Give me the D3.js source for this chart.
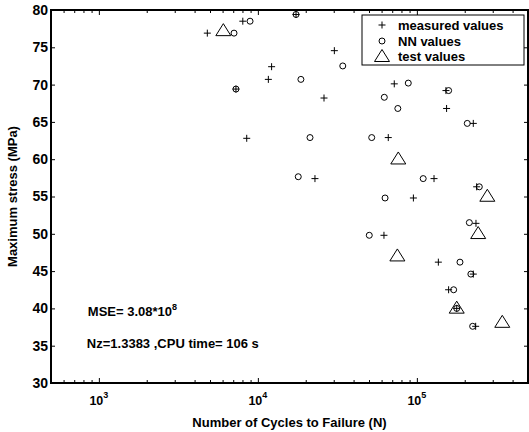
<!DOCTYPE html>
<html><head><meta charset="utf-8">
<script src="https://cdn.jsdelivr.net/npm/d3@7/dist/d3.min.js"></script>
<style>
body{margin:0;background:#fff}
svg text{font-family:"Liberation Sans",Arial,Helvetica,sans-serif;font-weight:bold;fill:#000}
</style>
</head><body>
<svg id="chart" width="529" height="432"></svg>
<script>
// ---- data ----
const measuredCycles = [4810, 8040, 17380, 12200, 11640, 7280, 8510, 30270, 26060, 22860, 72100, 66100, 152400, 153800, 226400, 128200, 237700, 95100, 235400, 136500, 226400, 158400, 178100, 234300, 62100];
const measuredStress = [76.9, 78.5, 79.4, 72.4, 70.7, 69.4, 62.8, 74.55, 68.2, 57.4, 70.1, 62.9, 69.2, 66.8, 64.8, 57.4, 56.3, 54.8, 51.4, 46.2, 44.6, 42.5, 40.0, 37.6, 49.8];
const nnCycles = [7080, 8930, 17380, 18650, 7280, 17950, 34200, 21280, 88300, 62400, 75900, 52000, 158400, 207500, 109600, 247000, 63100, 213800, 186700, 218600, 170300, 178100, 224300, 50200];
const nnStress = [76.9, 78.5, 79.4, 70.7, 69.4, 57.65, 72.5, 62.9, 70.2, 68.3, 66.8, 62.9, 69.2, 64.8, 57.4, 56.3, 54.8, 51.5, 46.2, 44.6, 42.5, 40.0, 37.6, 49.8];
const testCycles = [6065, 76400, 277400, 243000, 75400, 178100, 344500];
const testStress = [77.3, 60.1, 55.1, 50.1, 47.1, 40.1, 38.2];

const yTicks = [30, 35, 40, 45, 50, 55, 60, 65, 70, 75, 80];
const xMajorTicks = [1e3, 1e4, 1e5];
const xTickBase = "10";
const xTickExponents = ["3", "4", "5"];
const xMinorTicks = [600, 700, 800, 900, 2000, 3000, 4000, 5000, 6000, 7000, 8000, 9000,
                     20000, 30000, 40000, 50000, 60000, 70000, 80000, 90000, 200000, 300000, 400000];
const xDomain = [500, 5e5];
const yDomain = [30, 80];
const legendLabels = ["measured values", "NN values", "test values"];
const xTitle = "Number of Cycles to Failure (N)";
const yTitle = "Maximum stress (MPa)";
const mseText = "MSE= 3.08*10";
const mseExp = "8";
const nzText = "Nz=1.3383 ,CPU time= 106 s";

// ---- layout ----
const L = 51, R = 528, T = 10, B = 383;
const svg = d3.select("#chart");
const x = d3.scaleLog().domain(xDomain).range([L, R]);
const y = d3.scaleLinear().domain(yDomain).range([B, T]);

// axes (ticks inward)
svg.append("g").attr("transform", `translate(0,${B})`)
  .call(d3.axisBottom(x).tickValues(xMajorTicks).tickSize(-5).tickSizeOuter(0).tickFormat(""));
svg.append("g").attr("transform", `translate(0,${B})`)
  .call(d3.axisBottom(x).tickValues(xMinorTicks).tickSize(-3).tickSizeOuter(0).tickFormat(""));
svg.append("g").attr("transform", `translate(0,${T})`)
  .call(d3.axisTop(x).tickValues(xMajorTicks).tickSize(-5).tickSizeOuter(0).tickFormat(""));
svg.append("g").attr("transform", `translate(0,${T})`)
  .call(d3.axisTop(x).tickValues(xMinorTicks).tickSize(-3).tickSizeOuter(0).tickFormat(""));
const gL = svg.append("g").attr("transform", `translate(${L},0)`)
  .call(d3.axisLeft(y).tickValues(yTicks).tickSize(-4).tickPadding(3).tickSizeOuter(0));
svg.append("g").attr("transform", `translate(${R},0)`)
  .call(d3.axisRight(y).tickValues(yTicks).tickSize(-4).tickSizeOuter(0).tickFormat(""));

svg.selectAll(".domain").remove();
svg.selectAll(".tick line").attr("stroke", "#000").attr("stroke-width", 1);
gL.selectAll("text").attr("font-size", 14).style("font-weight", "bold")
  .attr("font-family", "Liberation Sans, Arial, sans-serif");

// x tick labels with superscripts
xMajorTicks.forEach((v, i) => {
  const t = svg.append("text").attr("x", x(v)).attr("y", 405)
    .attr("text-anchor", "middle").attr("font-size", 12.5);
  t.append("tspan").text(xTickBase);
  t.append("tspan").attr("dy", -7).attr("font-size", 9).text(xTickExponents[i]);
});

// frame
svg.append("rect").attr("x", L).attr("y", T).attr("width", R - L).attr("height", B - T)
  .attr("fill", "none").attr("stroke", "#000").attr("stroke-width", 2);

// titles
svg.append("text").attr("x", (L + R) / 2).attr("y", 427).attr("text-anchor", "middle")
  .attr("font-size", 13).text(xTitle);
svg.append("text").attr("transform", `translate(17,${(T + B) / 2}) rotate(-90)`)
  .attr("text-anchor", "middle").attr("font-size", 13).text(yTitle);

// annotations
const mse = svg.append("text").attr("x", x(1000) - 11).attr("y", 316).attr("font-size", 13);
mse.append("tspan").text(mseText);
mse.append("tspan").attr("dy", -6).attr("font-size", 9).text(mseExp);
svg.append("text").attr("x", x(1000) - 12).attr("y", 348).attr("font-size", 13).text(nzText);

// markers
const plusPath = (cx, cy, s) => `M${cx - s},${cy}H${cx + s}M${cx},${cy - s}V${cy + s}`;
const triPath = (cx, cy) => `M${cx},${cy - 6.5}L${cx - 7.5},${cy + 5.5}L${cx + 7.5},${cy + 5.5}Z`;

const measured = measuredCycles.map((c, i) => ({c, s: measuredStress[i]}));
const nn = nnCycles.map((c, i) => ({c, s: nnStress[i]}));
const test = testCycles.map((c, i) => ({c, s: testStress[i]}));

svg.append("g").selectAll("path").data(measured).join("path")
  .attr("d", d => plusPath(x(d.c), y(d.s), 3.5))
  .attr("stroke", "#000").attr("stroke-width", 1).attr("fill", "none");
svg.append("g").selectAll("circle").data(nn).join("circle")
  .attr("cx", d => x(d.c)).attr("cy", d => y(d.s)).attr("r", 3)
  .attr("stroke", "#000").attr("stroke-width", 1).attr("fill", "none");
svg.append("g").selectAll("path").data(test).join("path")
  .attr("d", d => triPath(x(d.c), y(d.s)))
  .attr("stroke", "#000").attr("stroke-width", 1).attr("fill", "none");

// legend
const lx = 362, ly = 15, lw = 162, lh = 50;
svg.append("rect").attr("x", lx).attr("y", ly).attr("width", lw).attr("height", lh)
  .attr("fill", "#fff").attr("stroke", "#000").attr("stroke-width", 1);
const rowY = [25, 41, 56];
const lmx = lx + 20;
svg.append("path").attr("d", plusPath(lmx, rowY[0], 3.5)).attr("stroke", "#000").attr("fill", "none");
svg.append("circle").attr("cx", lmx).attr("cy", rowY[1]).attr("r", 3).attr("stroke", "#000").attr("fill", "none");
svg.append("path").attr("d", triPath(lmx, rowY[2])).attr("stroke", "#000").attr("fill", "none");
legendLabels.forEach((lab, i) => {
  svg.append("text").attr("x", lx + 36).attr("y", rowY[i]).attr("dy", "0.35em")
    .attr("font-size", 13).text(lab);
});
</script>
</body></html>
